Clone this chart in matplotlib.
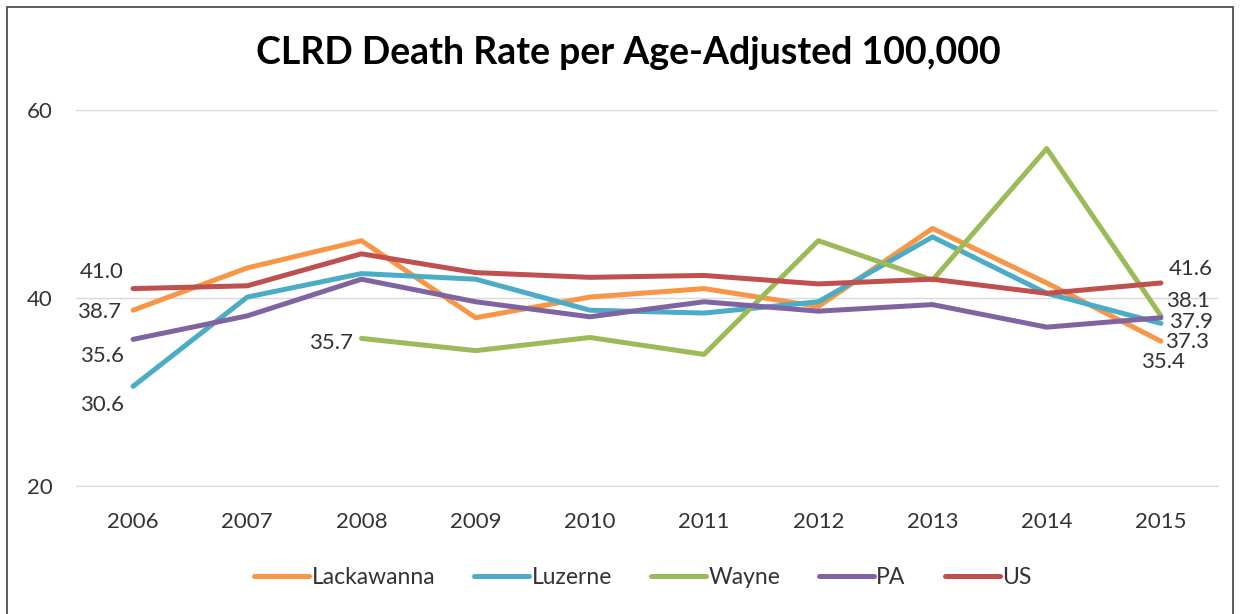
import matplotlib.pyplot as plt
from matplotlib.patches import Rectangle

# Data
years = ['2006', '2007', '2008', '2009', '2010', '2011', '2012', '2013', '2014', '2015']
lackawanna = [38.7, 43.2, 46.1, 37.9, 40.1, 41.0, 39.1, 47.4, 41.6, 35.4]
luzerne = [30.6, 40.1, 42.6, 42.0, 38.7, 38.4, 39.6, 46.5, 40.5, 37.3]
wayne = [None, None, 35.7, 34.4, 35.8, 34.0, 46.1, 41.9, 55.9, 38.1]
pa = [35.6, 38.1, 42.0, 39.6, 38.0, 39.6, 38.6, 39.3, 36.9, 37.9]
us = [41.0, 41.3, 44.7, 42.7, 42.2, 42.4, 41.5, 42.0, 40.5, 41.6]

names = ['Lackawanna', 'Luzerne', 'Wayne', 'PA', 'US']
colors = ['#F79646', '#4BACC6', '#9BBB59', '#8064A2', '#C0504D']

plt.rcParams['font.family'] = ['Lato', 'DejaVu Sans']
text_col = '#333333'

fig = plt.figure(figsize=(12.41, 6.14), dpi=100)
ax = fig.add_axes([0.0612, 0.2085, 0.9203, 0.6123])

x = list(range(len(years)))
series = [lackawanna, luzerne, wayne, pa, us]
for vals, name, col in zip(series, names, colors):
    xs = [i for i, v in zip(x, vals) if v is not None]
    ys = [v for v in vals if v is not None]
    ax.plot(xs, ys, color=col, lw=3.6, label=name, solid_capstyle='round',
            solid_joinstyle='round')

# data labels at first/last points, offsets in pixels (dx, dy)
def label(xi, val, dx, dy):
    ax.annotate(f'{val:.1f}', (xi, val), xytext=(dx * 0.72, dy * 0.72),
                textcoords='offset points', ha='center', va='center',
                fontsize=16, color=text_col)

label(0, us[0], -31, 17)
label(0, lackawanna[0], -34, -2)
label(0, pa[0], -31, -17)
label(0, luzerne[0], -31, -19)
label(2, wayne[2], -30, -5)
label(9, us[9], 30, 14)
label(9, wayne[9], 27, 15)
label(9, pa[9], 30, -4)
label(9, luzerne[9], 26, -19)
label(9, lackawanna[9], 2, -21)

ax.set_xlim(-0.5, len(years) - 0.5)
ax.set_ylim(20, 60)
ax.set_yticks([20, 40, 60])
ax.set_xticks(x)
ax.set_xticklabels(years)
ax.yaxis.grid(True, color='#D9D9D9', lw=1)
ax.set_axisbelow(True)
for s in ['top', 'right', 'left']:
    ax.spines[s].set_visible(False)
ax.spines['bottom'].set_color('#D9D9D9')
ax.tick_params(axis='both', length=0, labelsize=16, colors=text_col)
ax.tick_params(axis='x', pad=19)
ax.tick_params(axis='y', pad=17)

fig.text(0.506, 0.914, 'CLRD Death Rate per Age-Adjusted 100,000', ha='center',
         va='center', fontsize=27, fontweight='bold', color='black')

ax.legend(loc='center', bbox_to_anchor=(0.518, 0.06), bbox_transform=fig.transFigure,
          ncol=5, frameon=False, fontsize=16.5, handlelength=2.4, handletextpad=0.1,
          columnspacing=1.7, labelcolor=text_col)

# outer chart border
fig.patches.append(Rectangle((7 / 1241, -0.01), 1226 / 1241, 1 - 7 / 614 + 0.01,
                             transform=fig.transFigure, fill=False,
                             edgecolor='#404040', lw=1.2))

fig.savefig('out.png', dpi=100)
